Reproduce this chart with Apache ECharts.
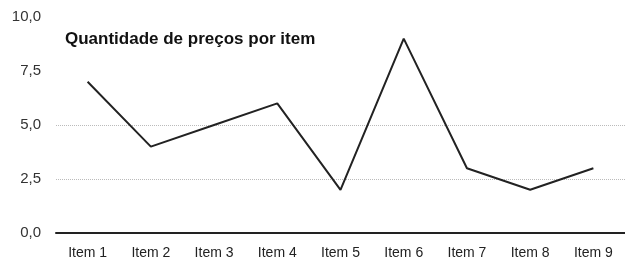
<!DOCTYPE html>
<html>
<head>
<meta charset="utf-8">
<script src="https://cdn.jsdelivr.net/npm/echarts@6/dist/echarts.min.js"></script>
<style>
  html, body { margin: 0; padding: 0; background: #fff; }
  #chart { width: 625px; height: 260px; }
</style>
</head>
<body>
<div id="chart"></div>
<script>
// dados do gráfico
var categorias = ['Item 1', 'Item 2', 'Item 3', 'Item 4', 'Item 5', 'Item 6', 'Item 7', 'Item 8', 'Item 9'];
var quantidades = [7, 4, 5, 6, 2, 9, 3, 2, 3];
var titulo = 'Quantidade de preços por item';

var myChart = echarts.init(document.getElementById('chart'));

option = {
  animation: false,
  title: {
    text: titulo,
    left: 60,
    top: 26,
    textStyle: {
      fontFamily: 'Liberation Sans',
      fontSize: 17,
      fontWeight: 'bold',
      color: '#111'
    }
  },
  grid: {
    left: 56,
    width: 576,
    top: 17,
    bottom: 27
  },
  xAxis: {
    type: 'category',
    boundaryGap: true,
    data: categorias,
    axisLine: { lineStyle: { color: '#222', width: 2 } },
    axisTick: { show: false },
    axisLabel: {
      fontFamily: 'Liberation Sans',
      fontSize: 14,
      color: '#222',
      margin: 13
    }
  },
  yAxis: {
    type: 'value',
    min: 0,
    max: 10,
    interval: 2.5,
    axisLine: { show: false },
    axisTick: { show: false },
    axisLabel: {
      fontFamily: 'Liberation Sans',
      fontSize: 15,
      color: '#333',
      margin: 15,
      formatter: function (v) { return v.toFixed(1).replace('.', ','); }
    },
    splitLine: {
      lineStyle: {
        // só as linhas de 2,5 e 5,0 aparecem no original
        color: ['rgba(0,0,0,0)', '#bbb', '#bbb', 'rgba(0,0,0,0)', 'rgba(0,0,0,0)'],
        type: 'dotted',
        width: 1
      }
    }
  },
  series: [
    {
      name: titulo,
      type: 'line',
      data: quantidades,
      showSymbol: false,
      lineStyle: { color: '#222', width: 2 }
    }
  ]
};

myChart.setOption(option);
</script>
</body>
</html>
